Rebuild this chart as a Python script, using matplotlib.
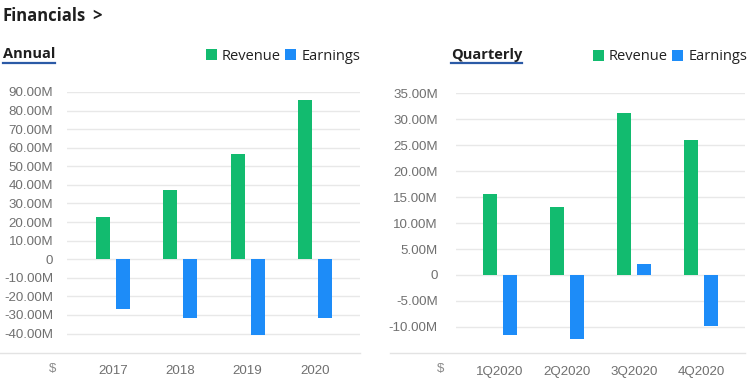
import numpy as np
import matplotlib
matplotlib.use('Agg')
import matplotlib.pyplot as plt
from matplotlib.lines import Line2D
from matplotlib.ticker import FuncFormatter

plt.rcParams['font.family'] = ['Liberation Sans', 'DejaVu Sans']

# 데이터 (단위: 백만 달러)
annual_labels = ['2017', '2018', '2019', '2020']
annual_revenue = [22.6, 37.3, 56.4, 85.8]
annual_earnings = [-26.9, -31.4, -41.0, -31.4]

quarter_labels = ['1Q2020', '2Q2020', '3Q2020', '4Q2020']
quarter_revenue = [15.6, 13.0, 31.3, 26.0]
quarter_earnings = [-11.6, -12.3, 2.1, -9.8]

GREEN = '#12bb6f'
BLUE = '#1d8cf8'
DARK = '#1f1f1f'
GRAY = '#707070'
UNDERLINE = '#2b5aa6'

W, H = 750, 384
fig = plt.figure(figsize=(W / 100, H / 100), dpi=100)


def px(x, y):
    # 픽셀 좌표 -> figure 좌표
    return x / W, 1 - y / H


def make_panel(left, right, top, bottom, ylim, ticks, xlim, labels, rev, earn, pad):
    ax = fig.add_axes([left / W, 1 - bottom / H, (right - left) / W, (bottom - top) / H])
    x = np.arange(len(labels))
    off = 0.148
    w = 0.208
    ax.bar(x - off, np.array(rev) * 1e6, width=w, color=GREEN, label='Revenue')
    ax.bar(x + off, np.array(earn) * 1e6, width=w, color=BLUE, label='Earnings')
    ax.set_xlim(*xlim)
    ax.set_ylim(ylim[0] * 1e6, ylim[1] * 1e6)
    ax.set_yticks(np.array(ticks) * 1e6)
    ax.yaxis.set_major_formatter(FuncFormatter(
        lambda v, p: '0' if abs(v) < 1 else f'{v / 1e6:.2f}M'))
    ax.set_xticks(x)
    ax.set_xticklabels(labels)
    ax.grid(axis='y', color='#e8e8e8', linewidth=1)
    ax.set_axisbelow(True)
    for s in ax.spines.values():
        s.set_visible(False)
    ax.tick_params(axis='both', length=0, colors=GRAY, labelsize=9.6)
    ax.tick_params(axis='y', pad=pad)
    ax.tick_params(axis='x', pad=9)
    return ax


ax1 = make_panel(67, 360, 92, 352.7, (-50.3, 90), range(-40, 91, 10),
                 (-0.678, 3.668), annual_labels, annual_revenue, annual_earnings, 10)
ax2 = make_panel(456, 745, 93.3, 353.3, (-15.09, 35), range(-10, 36, 5),
                 (-0.657, 3.657), quarter_labels, quarter_revenue, quarter_earnings, 13)

# 하단 기준선
fig.add_artist(Line2D([0, 360 / W], [1 - 352.7 / H] * 2, color='#e3e3e3', lw=1))
fig.add_artist(Line2D([390 / W, 745 / W], [1 - 353.3 / H] * 2, color='#e3e3e3', lw=1))

# $ 표시
fig.text(*px(53, 369), '$', ha='center', va='center', color='#8a8a8a', fontsize=9.6)
fig.text(*px(441, 369), '$', ha='center', va='center', color='#8a8a8a', fontsize=9.6)

# 제목
fig.text(*px(3, 16), 'Financials', ha='left', va='center', family='Open Sans',
         fontweight='bold', fontsize=12, color=DARK)
fig.text(*px(92, 16), '>', ha='left', va='center', family='Open Sans',
         fontweight='bold', fontsize=12, color=DARK)

fig.text(*px(3, 54), 'Annual', ha='left', va='center', family='Open Sans',
         fontweight='bold', fontsize=10.5, color=DARK)
fig.add_artist(Line2D([3 / W, 55 / W], [1 - 63 / H] * 2, color=UNDERLINE, lw=1.6))
fig.text(*px(451, 55), 'Quarterly', ha='left', va='center', family='Open Sans',
         fontweight='bold', fontsize=10.5, color=DARK)
fig.add_artist(Line2D([451 / W, 522 / W], [1 - 63 / H] * 2, color=UNDERLINE, lw=1.6))

# 범례
for ax, xr, yc in [(ax1, 360, 56), (ax2, 747, 57)]:
    ax.legend(loc='center right', bbox_to_anchor=px(xr, yc), bbox_transform=fig.transFigure,
              ncol=2, frameon=False, handlelength=0.75, handleheight=0.75,
              handletextpad=0.35, columnspacing=0.3, borderpad=0, borderaxespad=0,
              prop={'family': 'Open Sans', 'size': 10.5}, labelcolor='#222222')

fig.savefig('out.png', dpi=100)
